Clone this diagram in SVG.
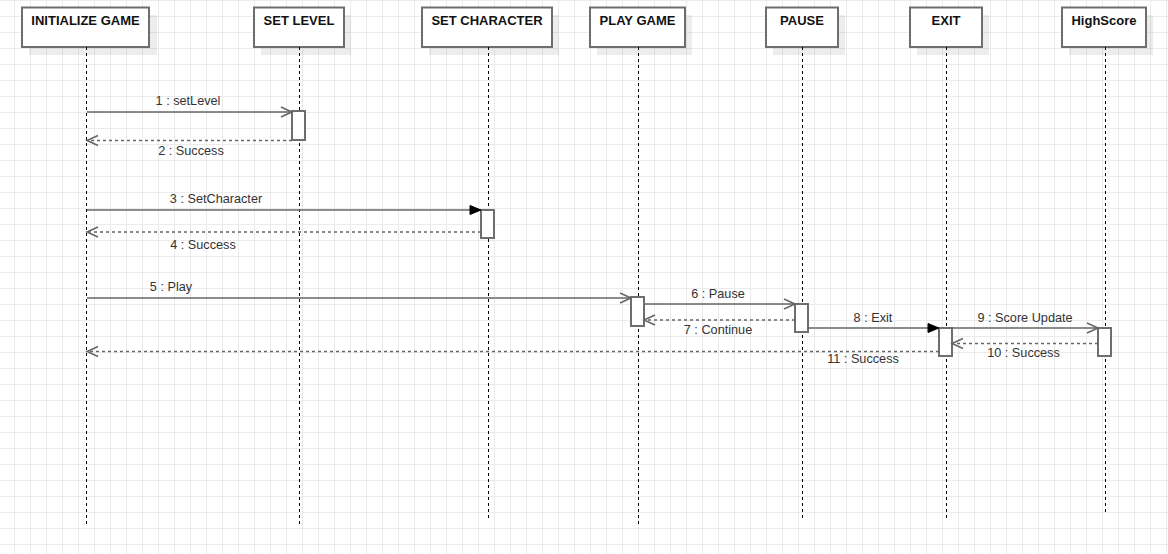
<svg xmlns="http://www.w3.org/2000/svg" width="1168" height="554" viewBox="0 0 1168 554">
  <style>
    .box { fill: #ffffff; stroke: #6e6e6e; stroke-width: 2; }
    .shadow { fill: #000000; fill-opacity: 0.07; }
    .hdr { font-family: "Liberation Sans", Arial, sans-serif; font-size: 13px; font-weight: bold; fill: #111111; text-anchor: middle; }
    .life { stroke: #000000; stroke-width: 1; stroke-dasharray: 3 3; fill: none; }
    .act { fill: #ffffff; stroke: #6e6e6e; stroke-width: 2; }
    .msg { stroke: #666666; stroke-width: 1.5; fill: none; }
    .ret { stroke: #666666; stroke-width: 1.5; fill: none; stroke-dasharray: 3 3; }
    .lbl { font-family: "Liberation Sans", Arial, sans-serif; font-size: 12.7px; fill: #333333; text-anchor: middle; }
  </style>
  <defs>
    <pattern id="grid" patternUnits="userSpaceOnUse" x="14" y="0" width="16" height="16">
      <path d="M0.5,0 V16 M0,0.5 H16" stroke="#ebebeb" stroke-width="1" fill="none"/>
    </pattern>
    <marker id="open" markerUnits="userSpaceOnUse" markerWidth="14" markerHeight="12" refX="11" refY="5" orient="auto" overflow="visible">
      <path d="M0,0 L11,5 L0,10" fill="none" stroke="#666666" stroke-width="1.5"/>
    </marker>
    <marker id="filled" markerUnits="userSpaceOnUse" markerWidth="14" markerHeight="12" refX="11" refY="4.5" orient="auto" overflow="visible">
      <path d="M0,0 L11,4.5 L0,9 Z" fill="#000000" stroke="#000000" stroke-width="1"/>
    </marker>
  </defs>

  <rect x="0" y="0" width="1168" height="554" fill="#ffffff"/>
  <rect x="0" y="0" width="1168" height="554" fill="url(#grid)"/>

  <g id="node-initialize-game">
    <rect class="shadow" x="29" y="15" width="128" height="40"/>
    <rect class="box" x="22" y="7.5" width="127" height="39.5"/>
    <text class="hdr" x="85.5" y="25">INITIALIZE GAME</text>
    <line class="life" x1="86.5" y1="47" x2="86.5" y2="525"/>
  </g>
  <g id="node-set-level">
    <rect class="shadow" x="261" y="15" width="90" height="40"/>
    <rect class="box" x="254" y="7.5" width="90" height="39.5"/>
    <text class="hdr" x="299" y="25">SET LEVEL</text>
    <line class="life" x1="299.5" y1="47" x2="299.5" y2="525"/>
  </g>
  <g id="node-set-character">
    <rect class="shadow" x="429" y="15" width="130" height="40"/>
    <rect class="box" x="422" y="7.5" width="130" height="39.5"/>
    <text class="hdr" x="487" y="25">SET CHARACTER</text>
    <line class="life" x1="488.5" y1="47" x2="488.5" y2="519"/>
  </g>
  <g id="node-play-game">
    <rect class="shadow" x="597" y="15" width="95" height="40"/>
    <rect class="box" x="590" y="7.5" width="95" height="39.5"/>
    <text class="hdr" x="637.5" y="25">PLAY GAME</text>
    <line class="life" x1="638.5" y1="47" x2="638.5" y2="525"/>
  </g>
  <g id="node-pause">
    <rect class="shadow" x="773" y="15" width="72" height="40"/>
    <rect class="box" x="766" y="7.5" width="72" height="39.5"/>
    <text class="hdr" x="802" y="25">PAUSE</text>
    <line class="life" x1="802.5" y1="47" x2="802.5" y2="519"/>
  </g>
  <g id="node-exit">
    <rect class="shadow" x="917" y="15" width="72" height="40"/>
    <rect class="box" x="910" y="7.5" width="72" height="39.5"/>
    <text class="hdr" x="946" y="25">EXIT</text>
    <line class="life" x1="946.5" y1="47" x2="946.5" y2="519"/>
  </g>
  <g id="node-highscore">
    <rect class="shadow" x="1069" y="15" width="84" height="40"/>
    <rect class="box" x="1062" y="7.5" width="84" height="39.5"/>
    <text class="hdr" x="1104" y="25">HighScore</text>
    <line class="life" x1="1105.5" y1="47" x2="1105.5" y2="512"/>
  </g>

  <g id="activations">
    <rect class="act" x="292" y="111" width="13" height="29"/>
    <rect class="act" x="481" y="210" width="13" height="28"/>
    <rect class="act" x="631" y="297" width="13" height="29"/>
    <rect class="act" x="795" y="304" width="13" height="28"/>
    <rect class="act" x="939" y="328" width="13" height="28"/>
    <rect class="act" x="1098" y="328" width="13" height="28"/>
  </g>

  <g id="connectors">
    <line class="msg" x1="87" y1="112" x2="292" y2="112" marker-end="url(#open)"/>
    <text class="lbl" x="188" y="105">1 : setLevel</text>

    <line class="ret" x1="292" y1="140.5" x2="87" y2="140.5" marker-end="url(#open)"/>
    <text class="lbl" x="191" y="155">2 : Success</text>

    <line class="msg" x1="87" y1="210" x2="481" y2="210" marker-end="url(#filled)"/>
    <text class="lbl" x="216" y="203">3 : SetCharacter</text>

    <line class="ret" x1="481" y1="232" x2="87" y2="232" marker-end="url(#open)"/>
    <text class="lbl" x="203" y="249">4 : Success</text>

    <line class="msg" x1="87" y1="298" x2="631" y2="298" marker-end="url(#open)"/>
    <text class="lbl" x="171" y="291">5 : Play</text>

    <line class="msg" x1="644" y1="304" x2="795" y2="304" marker-end="url(#open)"/>
    <text class="lbl" x="718" y="298">6 : Pause</text>

    <line class="ret" x1="795" y1="320" x2="644" y2="320" marker-end="url(#open)"/>
    <text class="lbl" x="718" y="334">7 : Continue</text>

    <line class="msg" x1="808" y1="328" x2="939" y2="328" marker-end="url(#filled)"/>
    <text class="lbl" x="873" y="322">8 : Exit</text>

    <line class="msg" x1="952" y1="328" x2="1098" y2="328" marker-end="url(#open)"/>
    <text class="lbl" x="1025" y="322">9 : Score Update</text>

    <line class="ret" x1="1098" y1="343.5" x2="952" y2="343.5" marker-end="url(#open)"/>
    <text class="lbl" x="1023.5" y="357">10 : Success</text>

    <line class="ret" x1="939" y1="351.5" x2="87" y2="351.5" marker-end="url(#open)"/>
    <text class="lbl" x="863" y="363">11 : Success</text>
  </g>
</svg>
